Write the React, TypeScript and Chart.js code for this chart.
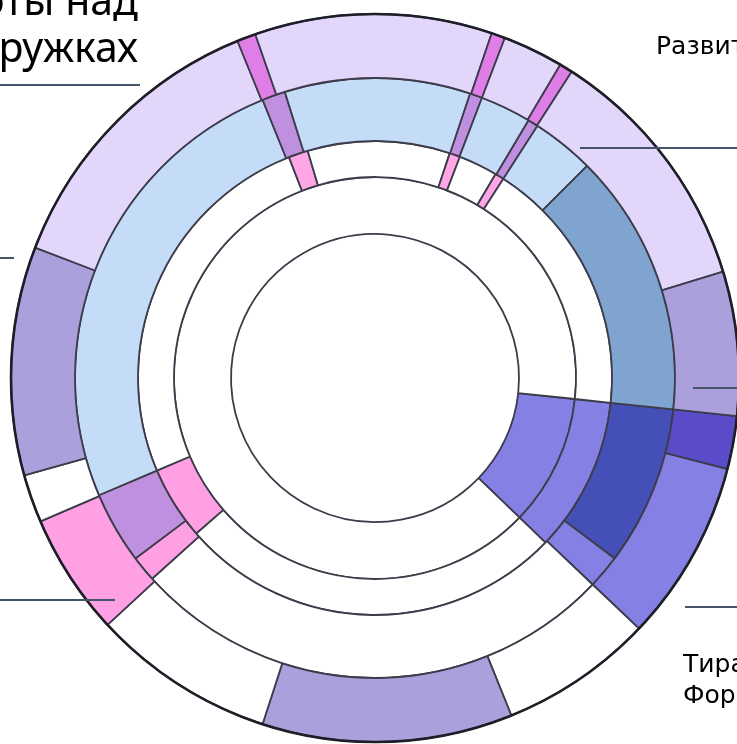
import React, { useEffect, useRef } from "react";
import { Chart, ArcElement, DoughnutController } from "chart.js";

Chart.register(ArcElement, DoughnutController);

// ---- Data (arc spans in degrees, clockwise, starting at the common boundary) ----
const startAngle = 96;

// Outer ring
const ringOuterValues = [8.5, 29, 24.5, 40, 29.3, 19.5, 7.7, 36.5, 46.8, 3, 37.9, 2.2, 9.7, 2.1, 40.3, 23];
const ringOuterColors = [
  "#5a4cc8", "#8480e4", "#ffffff", "#aba0dc", "#ffffff", "#ffa0e4", "#ffffff", "#aba0dc",
  "#e2d6fb", "#e07ee8", "#e2d6fb", "#e07ee8", "#e2d6fb", "#e07ee8", "#e2d6fb", "#aba0dc",
];

// Second ring
const ringSecondValues = [31, 6.5, 94.5, 5, 14, 91, 4.5, 36, 2.4, 9.9, 2, 12.2, 51];
const ringSecondColors = [
  "#4450b8", "#8480e4", "#ffffff", "#ffa0e4", "#c090e0", "#c4dcf8", "#c090e0", "#c4dcf8",
  "#c090e0", "#c4dcf8", "#c090e0", "#c4dcf8", "#80a4d0",
];

// Third ring
const ringThirdValues = [38, 95, 18, 91.7, 4.8, 34.9, 2.6, 9.6, 2.2, 63.2];
const ringThirdColors = [
  "#8480e4", "#ffffff", "#ffa0e4", "#ffffff", "#ffa6e6", "#ffffff", "#ffa6e6", "#ffffff",
  "#ffa6e6", "#ffffff",
];

// Inner ring
const ringInnerValues = [38, 322];
const ringInnerColors = ["#8480e4", "#ffffff"];

// Ring thickness weights (outer -> inner)
const ringWeights = [64, 63, 36, 57];

// Texts
const titleLines = ["Распределение работы над", "проектами в кружках"];
const labelTopRight = "Развитие речи";
const labelBottomRight = ["Тиражирование", "Формирование"];

const W = 1000;
const H = 1000;
const CX = 375; // chart centre in the page
const CY = 378;
const OUTER_R = 364;
const INNER_R = 144;

const leaderPlugin = {
  id: "leaders",
  afterDraw(chart: any) {
    const meta = chart.getDatasetMeta(0);
    const arc = meta.data[0];
    if (!arc) return;
    const { x, y, outerRadius } = arc.getProps(["x", "y", "outerRadius"], true);
    const ctx = chart.ctx;
    ctx.save();
    // darker outer rim
    ctx.strokeStyle = "#1e1e28";
    ctx.lineWidth = 2.6;
    ctx.beginPath();
    ctx.arc(x, y, outerRadius, 0, Math.PI * 2);
    ctx.stroke();

    const segs: [number, number, number][] = [
      // [dy, dxFrom, dxTo] relative to chart centre
      [-293, -500, -235],
      [-120, -500, -361],
      [222, -500, -260],
      [-230, 205, 500],
      [10, 318, 500],
      [229, 310, 500],
    ];
    ctx.strokeStyle = "#44546a";
    ctx.lineWidth = 2;
    for (const [dy, a, b] of segs) {
      ctx.beginPath();
      ctx.moveTo(x + a, y + dy);
      ctx.lineTo(x + b, y + dy);
      ctx.stroke();
    }
    ctx.restore();
  },
};

export default function App() {
  const ref = useRef<HTMLCanvasElement | null>(null);

  useEffect(() => {
    if (!ref.current) return;
    const mk = (data: number[], colors: string[], weight: number) => ({
      data,
      backgroundColor: colors,
      borderColor: "#3c3c4a",
      borderWidth: 1.8,
      weight,
      hoverOffset: 0,
    });
    const chart = new Chart(ref.current, {
      type: "doughnut",
      data: {
        datasets: [
          mk(ringOuterValues, ringOuterColors, ringWeights[0]),
          mk(ringSecondValues, ringSecondColors, ringWeights[1]),
          mk(ringThirdValues, ringThirdColors, ringWeights[2]),
          mk(ringInnerValues, ringInnerColors, ringWeights[3]),
        ],
      },
      options: {
        responsive: false,
        animation: false,
        events: [],
        rotation: startAngle,
        radius: OUTER_R,
        cutout: ((INNER_R / OUTER_R) * 100).toFixed(2) + "%",
        layout: { padding: 0 },
        plugins: {
          legend: { display: false },
          tooltip: { enabled: false },
        },
      } as any,
      plugins: [leaderPlugin],
    });
    return () => chart.destroy();
  }, []);

  const titleFont = "'Noto Sans', 'DejaVu Sans', sans-serif";
  const labelFont = "'DejaVu Sans', 'Noto Sans', sans-serif";

  return (
    <div
      style={{
        position: "fixed",
        left: 0,
        top: 0,
        width: 737,
        height: 744,
        overflow: "hidden",
        background: "#ffffff",
      }}
    >
      <div style={{ position: "absolute", left: CX - W / 2, top: CY - H / 2, width: W, height: H }}>
        <canvas ref={ref} width={W} height={H} style={{ width: W, height: H }} />
      </div>
      <div
        style={{
          position: "absolute",
          right: 737 - 138,
          top: -24,
          textAlign: "right",
          whiteSpace: "nowrap",
          fontFamily: titleFont,
          fontSize: 41,
          lineHeight: "47px",
          color: "#000",
        }}
      >
        {titleLines.map((t, i) => (
          <div key={i}>{t}</div>
        ))}
      </div>
      <div
        style={{
          position: "absolute",
          left: 656,
          top: 30,
          whiteSpace: "nowrap",
          fontFamily: labelFont,
          fontSize: 25,
          lineHeight: "31px",
          color: "#000",
        }}
      >
        {labelTopRight}
      </div>
      <div
        style={{
          position: "absolute",
          left: 683,
          top: 648,
          whiteSpace: "nowrap",
          fontFamily: labelFont,
          fontSize: 25,
          lineHeight: "31px",
          color: "#000",
        }}
      >
        {labelBottomRight.map((t, i) => (
          <div key={i}>{t}</div>
        ))}
      </div>
    </div>
  );
}
